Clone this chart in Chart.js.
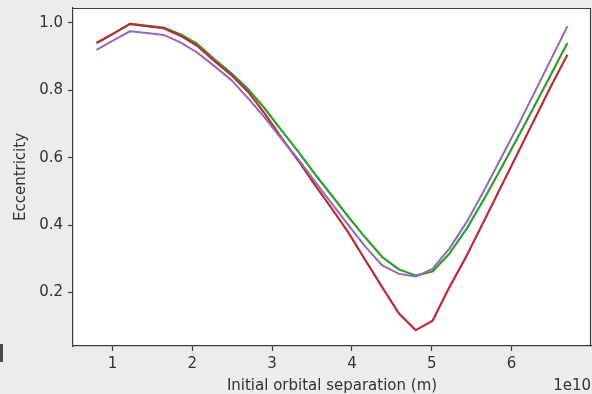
<!DOCTYPE html>
<html>
<head>
<meta charset="utf-8">
<script src="https://cdn.jsdelivr.net/npm/chart.js@4/dist/chart.umd.min.js"></script>
<style>
  html, body { margin: 0; padding: 0; background: #ececec; }
  #wrap { position: relative; width: 592px; height: 394px; overflow: hidden; }
  #c { position: absolute; left: 0; top: 0; }
  #edge { position: absolute; left: 0; top: 344px; width: 3px; height: 18px; background: #4a4a4a; }
</style>
</head>
<body>
<div id="wrap">
  <canvas id="c" width="592" height="394"></canvas>
  <div id="edge"></div>
</div>
<script>
// Initial orbital separation, in units of 1e10 m
const separation = [0.80, 1.01, 1.22, 1.43, 1.64, 1.85, 2.06, 2.27, 2.49, 2.70,
                    2.91, 3.12, 3.33, 3.54, 3.75, 3.96, 4.17, 4.38, 4.59, 4.80,
                    5.01, 5.22, 5.44, 5.65, 5.86, 6.07, 6.28, 6.49, 6.70];

// Final eccentricity for each run
const eccGreen  = [0.940, 0.968, 0.997, 0.991, 0.986, 0.966, 0.938, 0.893, 0.850, 0.803,
                   0.745, 0.680, 0.617, 0.550, 0.487, 0.423, 0.362, 0.305, 0.268, 0.250,
                   0.262, 0.315, 0.390, 0.475, 0.565, 0.657, 0.750, 0.845, 0.940];
const eccRed    = [0.940, 0.968, 0.997, 0.990, 0.984, 0.962, 0.932, 0.888, 0.845, 0.795,
                   0.730, 0.658, 0.590, 0.518, 0.448, 0.376, 0.295, 0.215, 0.137, 0.088,
                   0.116, 0.215, 0.310, 0.410, 0.510, 0.610, 0.710, 0.810, 0.905];
const eccPurple = [0.920, 0.948, 0.975, 0.970, 0.964, 0.942, 0.912, 0.873, 0.830, 0.776,
                   0.718, 0.655, 0.594, 0.528, 0.463, 0.398, 0.335, 0.280, 0.255, 0.247,
                   0.270, 0.330, 0.410, 0.500, 0.595, 0.690, 0.790, 0.890, 0.990];

const xTickValues = [1, 2, 3, 4, 5, 6];
const yTickValues = [0.2, 0.4, 0.6, 0.8, 1.0];
const xOffsetText = '1e10';

const FONT = 'DejaVu Sans';
const INK = '#333333';
const AXIS = '#3c3c3c';

const toPoints = ys => ys.map((y, i) => ({ x: separation[i], y }));

// Axes box on the top and right sides, plus the exponent label
const framePlugin = {
  id: 'frame',
  afterDraw(chart) {
    const { ctx, chartArea: a } = chart;
    ctx.save();
    ctx.strokeStyle = AXIS;
    ctx.lineWidth = 1.2;
    ctx.beginPath();
    ctx.moveTo(a.left, a.top + 0.5);
    ctx.lineTo(a.right - 0.5, a.top + 0.5);
    ctx.lineTo(a.right - 0.5, a.bottom);
    ctx.stroke();
    ctx.fillStyle = INK;
    ctx.font = '15px "' + FONT + '"';
    ctx.textAlign = 'right';
    ctx.textBaseline = 'middle';
    ctx.fillText(xOffsetText, a.right, 386);
    ctx.restore();
  }
};

const bgPlugin = {
  id: 'plotbg',
  beforeDraw(chart) {
    const { ctx, chartArea: a } = chart;
    ctx.save();
    ctx.fillStyle = '#ffffff';
    ctx.fillRect(a.left, a.top, a.right - a.left, a.bottom - a.top);
    ctx.restore();
  }
};

new Chart(document.getElementById('c'), {
  type: 'line',
  data: {
    datasets: [
      { label: 'green', data: toPoints(eccGreen), borderColor: '#2ca02c', borderWidth: 2.2, order: 2 },
      { label: 'red', data: toPoints(eccRed), borderColor: '#bd2b36', borderWidth: 2.2, order: 1 },
      { label: 'purple', data: toPoints(eccPurple), borderColor: '#9467bd', borderWidth: 2, order: 0 }
    ]
  },
  options: {
    responsive: false,
    animation: false,
    devicePixelRatio: 1,
    layout: { padding: { top: 8, right: 1, left: 0, bottom: 0 } },
    elements: { point: { radius: 0 }, line: { tension: 0, borderJoinStyle: 'round', borderCapStyle: 'butt' } },
    plugins: { legend: { display: false }, tooltip: { enabled: false } },
    scales: {
      x: {
        type: 'linear',
        min: 0.505,
        max: 6.995,
        afterFit: s => { s.height = 48; s.paddingLeft = 0; s.paddingRight = 0; },
        afterBuildTicks: s => { s.ticks = xTickValues.map(v => ({ value: v })); },
        grid: { drawOnChartArea: false, drawTicks: true, tickLength: 5, color: AXIS, tickWidth: 1.2 },
        border: { display: true, color: AXIS, width: 1.2 },
        ticks: {
          color: INK, padding: 4, maxRotation: 0, autoSkip: false,
          font: { family: FONT, size: 15 },
          callback: v => String(v)
        },
        title: {
          display: true, text: 'Initial orbital separation (m)', color: INK,
          font: { family: FONT, size: 15, lineHeight: 1 },
          padding: { top: 0, bottom: 0 }
        }
      },
      y: {
        type: 'linear',
        min: 0.041,
        max: 1.044,
        afterFit: s => { s.width = 73; s.paddingTop = 0; s.paddingBottom = 0; },
        afterBuildTicks: s => { s.ticks = yTickValues.map(v => ({ value: v })); },
        grid: { drawOnChartArea: false, drawTicks: true, tickLength: 5, color: AXIS, tickWidth: 1.2 },
        border: { display: true, color: AXIS, width: 1.2 },
        ticks: {
          color: INK, padding: 5, autoSkip: false,
          font: { family: FONT, size: 15 },
          callback: v => v.toFixed(1)
        },
        title: {
          display: true, text: 'Eccentricity', color: INK,
          font: { family: FONT, size: 15, lineHeight: 1 },
          padding: { top: 14, bottom: 0 }
        }
      }
    }
  },
  plugins: [bgPlugin, framePlugin]
});
</script>
</body>
</html>
